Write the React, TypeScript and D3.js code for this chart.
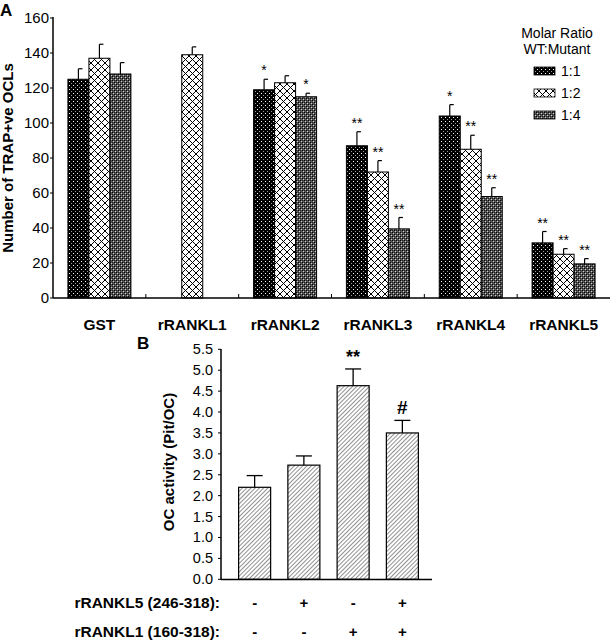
import React from "react";
import * as d3 from "d3";

// Panel A data
const groupsA = ["GST", "rRANKL1", "rRANKL2", "rRANKL3", "rRANKL4", "rRANKL5"];
const seriesA = ["1:1", "1:2", "1:4"];
// values per series (null = missing)
const valuesA: (number | null)[][] = [
  [125, null, 119, 87, 104, 31.5],
  [137, 139, 123, 72, 85, 25],
  [128, null, 115, 39.5, 58, 19.5],
];
const errorsA: (number | null)[][] = [
  [6, null, 6, 8, 6.5, 6.5],
  [8, 4.5, 4, 6.5, 8, 3.2],
  [6.5, null, 2, 6.5, 5, 3],
];
const starsA: string[][] = [
  ["", "", "*", "**", "*", "**"],
  ["", "", "", "**", "**", "**"],
  ["", "", "*", "**", "**", "**"],
];
const ticksA = [0, 20, 40, 60, 80, 100, 120, 140, 160];

// Panel B data
const barsB = ["c1", "c2", "c3", "c4"];
const valuesB = [2.2, 2.73, 4.63, 3.5];
const errorsB = [0.28, 0.22, 0.4, 0.3];
const marksB = ["", "", "**", "#"];
const ticksB = [0, 0.5, 1, 1.5, 2, 2.5, 3, 3.5, 4, 4.5, 5, 5.5];
const rowLabelsB = ["rRANKL5 (246-318):", "rRANKL1 (160-318):"];
const signsB = [
  ["-", "+", "-", "+"],
  ["-", "-", "+", "+"],
];

const FONT = "'Liberation Sans', Arial, sans-serif";

export default function App() {
  // Panel A scales
  const xA = d3.scaleBand<string>().domain(groupsA).range([53, 610]).paddingInner(0).paddingOuter(0);
  const yA = d3.scaleLinear().domain([0, 160]).range([298, 18]);
  const barW = 21;
  const fillsA = ["url(#pDots)", "url(#pCross)", "url(#pCheck)"];

  // Panel B scales
  const xB = d3.scaleBand<string>().domain(barsB).range([230, 427]).paddingInner(0.35).paddingOuter(0.175);
  const yB = d3.scaleLinear().domain([0, 5.5]).range([579.3, 349.3]);

  return (
    <svg width={610} height={640} style={{ position: "absolute", left: 0, top: 0, background: "#fff" }} fontFamily={FONT}>
      <defs>
        <pattern id="pDots" width={4} height={4} patternUnits="userSpaceOnUse">
          <rect width={4} height={4} fill="#000" />
          <rect x={1} y={1} width={1} height={1} fill="#fff" />
          <rect x={3} y={3} width={1} height={1} fill="#999" />
        </pattern>
        <pattern id="pCross" width={7} height={7} patternUnits="userSpaceOnUse">
          <rect width={7} height={7} fill="#fff" />
          <path d="M0,0 L7,7 M7,0 L0,7" stroke="#000" strokeWidth={1} />
        </pattern>
        <pattern id="pCheck" width={4} height={4} patternUnits="userSpaceOnUse">
          <rect width={4} height={4} fill="#555" />
          <rect x={0} y={0} width={1} height={1} fill="#000" />
          <rect x={2} y={2} width={1} height={1} fill="#000" />
          <rect x={1} y={1} width={1} height={1} fill="#ccc" />
          <rect x={3} y={3} width={1} height={1} fill="#ccc" />
          <rect x={2} y={0} width={1} height={1} fill="#222" />
          <rect x={0} y={2} width={1} height={1} fill="#222" />
        </pattern>
        <pattern id="pHatch" width={3} height={3} patternUnits="userSpaceOnUse" patternTransform="rotate(45)">
          <rect width={3} height={3} fill="#fff" />
          <line x1={0} y1={0} x2={0} y2={3} stroke="#555" strokeWidth={1.3} />
        </pattern>
      </defs>

      {/* Panel A */}
      <text x={0} y={16} fontSize={17} fontWeight="bold">A</text>
      <text transform={`translate(13,158) rotate(-90)`} textAnchor="middle" fontSize={15} fontWeight="bold">
        Number of TRAP+ve OCLs
      </text>
      {ticksA.map((t) => (
        <g key={t}>
          <line x1={50} x2={53} y1={yA(t)} y2={yA(t)} stroke="#000" />
          <text x={49} y={yA(t) + 5} textAnchor="end" fontSize={15}>{t}</text>
        </g>
      ))}
      {seriesA.map((s, si) =>
        groupsA.map((g, gi) => {
          const v = valuesA[si][gi];
          if (v == null) return null;
          const cx = (xA(g) as number) + xA.bandwidth() / 2;
          const x0 = cx - 1.5 * barW + si * barW;
          const e = errorsA[si][gi] as number;
          const bx = x0 + barW / 2;
          return (
            <g key={s + g}>
              <rect x={x0} y={yA(v)} width={barW} height={yA(0) - yA(v)} fill={fillsA[si]} stroke="#000" strokeWidth={1} />
              <line x1={bx} x2={bx} y1={yA(v)} y2={yA(v + e)} stroke="#000" strokeWidth={1.2} />
              <line x1={bx} x2={bx + 4} y1={yA(v + e)} y2={yA(v + e)} stroke="#000" strokeWidth={1.2} />
              {starsA[si][gi] && (
                <text x={bx} y={yA(v + e) - 4} textAnchor="middle" fontSize={14}>{starsA[si][gi]}</text>
              )}
            </g>
          );
        })
      )}
      <line x1={53} x2={53} y1={17} y2={298} stroke="#000" strokeWidth={1.5} />
      <line x1={53} x2={610} y1={298} y2={298} stroke="#000" strokeWidth={1.5} />
      {groupsA.map((g, gi) => (
        <g key={g}>
          {gi > 0 && <line x1={xA(g)} x2={xA(g)} y1={298} y2={294} stroke="#000" />}
          <text x={(xA(g) as number) + xA.bandwidth() / 2} y={330} textAnchor="middle" fontSize={15.5} fontWeight="bold">{g}</text>
        </g>
      ))}
      {/* Legend */}
      <text x={557} y={38} textAnchor="middle" fontSize={14}>Molar Ratio</text>
      <text x={557} y={54} textAnchor="middle" fontSize={14}>WT:Mutant</text>
      {seriesA.map((s, si) => (
        <g key={s}>
          <rect x={534} y={67 + si * 22} width={21} height={8} fill={fillsA[si]} stroke="#000" strokeWidth={0.8} />
          <text x={561} y={76 + si * 22} fontSize={14}>{s}</text>
        </g>
      ))}

      {/* Panel B */}
      <text x={137} y={349} fontSize={17} fontWeight="bold">B</text>
      <text transform={`translate(174,462) rotate(-90)`} textAnchor="middle" fontSize={15} fontWeight="bold">
        OC activity (Pit/OC)
      </text>
      {ticksB.map((t) => (
        <g key={t}>
          <line x1={218} x2={221} y1={yB(t)} y2={yB(t)} stroke="#000" />
          <text x={213} y={yB(t) + 5} textAnchor="end" fontSize={14.5}>{t.toFixed(1)}</text>
        </g>
      ))}
      {barsB.map((b, i) => {
        const x0 = xB(b) as number;
        const w = xB.bandwidth();
        const v = valuesB[i];
        const e = errorsB[i];
        const cx = x0 + w / 2;
        return (
          <g key={b}>
            <rect x={x0} y={yB(v)} width={w} height={yB(0) - yB(v)} fill="url(#pHatch)" stroke="#000" strokeWidth={1.2} />
            <line x1={cx} x2={cx} y1={yB(v)} y2={yB(v + e)} stroke="#000" strokeWidth={1.3} />
            <line x1={cx - 8} x2={cx + 8} y1={yB(v + e)} y2={yB(v + e)} stroke="#000" strokeWidth={1.3} />
            {marksB[i] && (
              <text x={cx} y={marksB[i] === "#" ? 414 : 363} textAnchor="middle" fontSize={marksB[i] === "#" ? 19 : 18} fontWeight="bold">{marksB[i]}</text>
            )}
          </g>
        );
      })}
      <line x1={221} x2={221} y1={349} y2={580} stroke="#000" strokeWidth={1.5} />
      <line x1={221} x2={432} y1={579.5} y2={579.5} stroke="#000" strokeWidth={1.5} />
      {rowLabelsB.map((lab, r) => (
        <g key={lab}>
          <text x={220} y={608 + r * 28.5} textAnchor="end" fontSize={15.5} fontWeight="bold">{lab}</text>
          {barsB.map((b, i) => (
            <text key={b} x={(xB(b) as number) + xB.bandwidth() / 2} y={608 + r * 28.5} textAnchor="middle" fontSize={15} fontWeight="bold">{signsB[r][i]}</text>
          ))}
        </g>
      ))}
    </svg>
  );
}
